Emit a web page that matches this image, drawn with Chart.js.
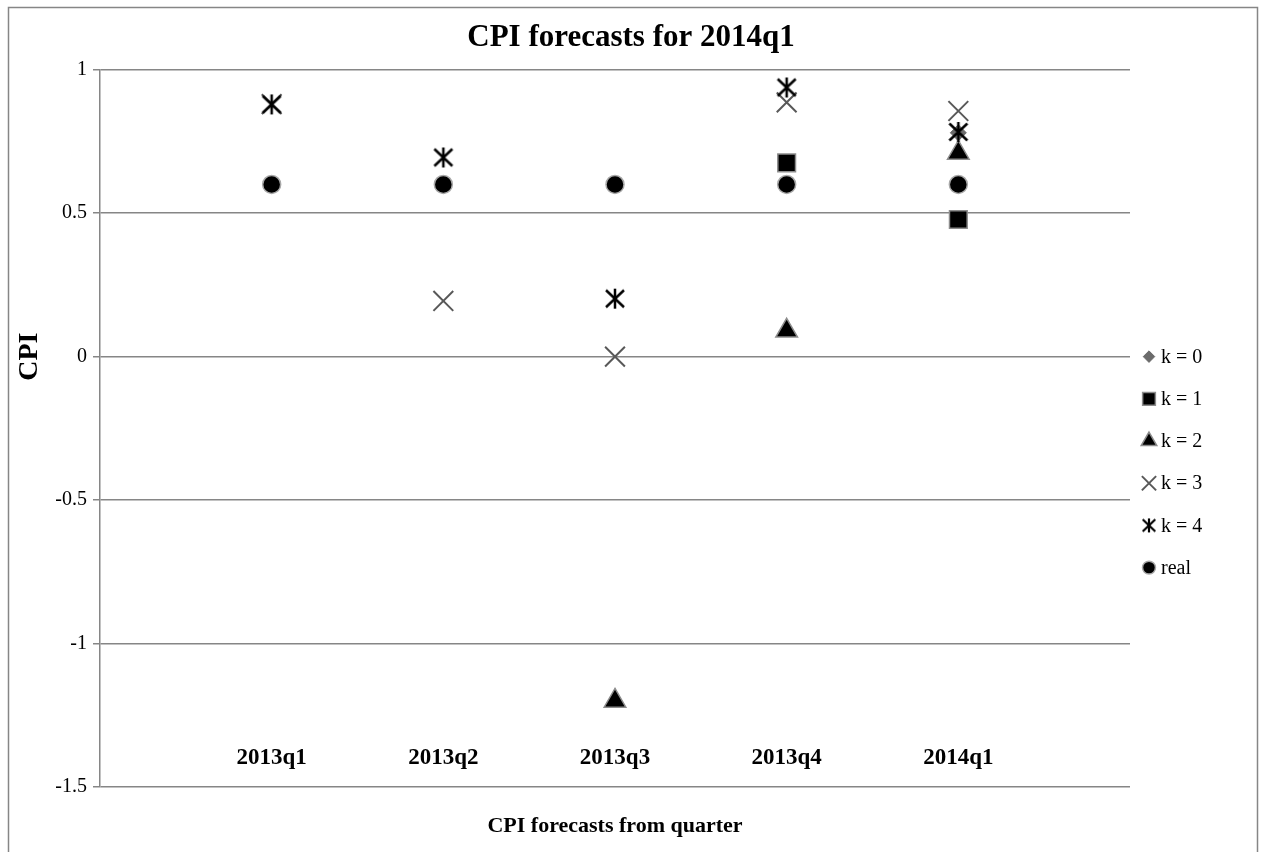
<!DOCTYPE html>
<html>
<head>
<meta charset="utf-8">
<title>CPI forecasts for 2014q1</title>
<script src="https://cdn.jsdelivr.net/npm/chart.js@4.4.1/dist/chart.umd.min.js"></script>
<style>
  html, body { margin: 0; padding: 0; background: #fff; }
  #wrap { width: 1262px; height: 852px; }
</style>
</head>
<body>
<div id="wrap"><canvas id="cpi"></canvas></div>
<script>
// quarters the forecast was made in
const quarters = ["2013q1", "2013q2", "2013q3", "2013q4", "2014q1"];
const yTicks = [1, 0.5, 0, -0.5, -1, -1.5];

// CPI forecasts for 2014q1 by horizon k (null = no visible mark)
const k0 = [null, null, null, null, 0.78];
const k1 = [null, null, null, 0.675, 0.478];
const k2 = [null, null, -1.2, 0.09, 0.71];
const k3 = [0.88, 0.194, 0, 0.886, 0.856];
const k4 = [0.879, 0.694, 0.202, 0.938, 0.783];
const real = [0.6, 0.6, 0.6, 0.6, 0.6];

const serif = "'Liberation Serif', 'Times New Roman', serif";
const grey = "#868686";

// excel-like star: an X with a vertical bar
function makeStar(size, lw) {
  const c = document.createElement("canvas");
  c.width = c.height = size;
  const g = c.getContext("2d");
  const h = size / 2, a = h - 2;
  g.strokeStyle = "#000";
  g.lineWidth = lw;
  g.beginPath();
  g.moveTo(h - a * 0.9, h - a * 0.85); g.lineTo(h + a * 0.9, h + a * 0.85);
  g.moveTo(h + a * 0.9, h - a * 0.85); g.lineTo(h - a * 0.9, h + a * 0.85);
  g.moveTo(h, h - a); g.lineTo(h, h + a);
  g.stroke();
  return c;
}
const star = makeStar(24, 2.5);
const starSmall = makeStar(18, 2.2);

const toPoints = (vals) => vals
  .map((v, i) => ({ x: i + 1, y: v }))
  .filter(p => p.y !== null);

const datasets = [
  { label: "k = 0", data: toPoints(k0), order: 6, pointStyle: "rectRot", pointRadius: 8,
    backgroundColor: "#6b6b6b", borderColor: "#6b6b6b", borderWidth: 1 },
  { label: "k = 1", data: toPoints(k1), order: 5, pointStyle: "rect", pointRadius: 12.5,
    backgroundColor: "#000", borderColor: "#8c8c8c", borderWidth: 1.5 },
  { label: "k = 2", data: toPoints(k2), order: 4, pointStyle: "triangle", pointRadius: 12.5,
    backgroundColor: "#000", borderColor: "#8c8c8c", borderWidth: 1.5 },
  { label: "k = 3", data: toPoints(k3), order: 3, pointStyle: "crossRot", pointRadius: 14,
    backgroundColor: "#595959", borderColor: "#595959", borderWidth: 2 },
  { label: "k = 4", data: toPoints(k4), order: 2, pointStyle: star, pointRadius: 12,
    backgroundColor: "#000", borderColor: "#000", borderWidth: 2 },
  { label: "real", data: toPoints(real), order: 1, pointStyle: "circle", pointRadius: 9,
    backgroundColor: "#000", borderColor: "#a8a8a8", borderWidth: 1.5 },
];

// outer chart border, open at the bottom like the cropped original
const framePlugin = {
  id: "frame",
  beforeDraw(chart) {
    const { ctx, width, height } = chart;
    ctx.save();
    ctx.fillStyle = "#fff";
    ctx.fillRect(0, 0, width, height);
    ctx.strokeStyle = grey;
    ctx.lineWidth = 1.5;
    ctx.strokeRect(8.5, 7.5, width - 13, height + 20);
    ctx.restore();
  }
};

// category names sit inside the plot, and the y title is centred on zero
const axisText = {
  id: "axisText",
  afterDraw(chart) {
    const { ctx } = chart;
    const xs = chart.scales.x, ys = chart.scales.y;
    ctx.save();
    ctx.fillStyle = "#000";
    ctx.textAlign = "center";
    ctx.textBaseline = "middle";
    ctx.font = "bold 23px " + serif;
    quarters.forEach((q, i) => {
      ctx.fillText(q, xs.getPixelForValue(i + 1), ys.bottom - 29);
    });
    ctx.translate(30, ys.getPixelForValue(0));
    ctx.rotate(-Math.PI / 2);
    ctx.font = "bold 28px " + serif;
    ctx.fillText("CPI", 0, 0);
    ctx.restore();
  }
};

// legend on the right, one row per series
const sideLegend = {
  id: "sideLegend",
  afterDraw(chart) {
    const { ctx } = chart;
    const area = chart.chartArea;
    const x = area.right + 19;
    const top = chart.scales.y.getPixelForValue(0);
    ctx.save();
    ctx.font = "20px " + serif;
    ctx.textBaseline = "middle";
    ctx.textAlign = "left";
    chart.data.datasets.forEach((ds, i) => {
      const y = top + i * 42.2;
      ctx.fillStyle = ds.backgroundColor;
      ctx.strokeStyle = ds.borderColor;
      ctx.lineWidth = ds.borderWidth;
      const style = ds.pointStyle === star ? starSmall : ds.pointStyle;
      Chart.helpers.drawPoint(ctx, {
        pointStyle: style, radius: ds.pointRadius * 0.72, rotation: 0, borderWidth: ds.borderWidth
      }, x, y);
      ctx.fillStyle = "#000";
      ctx.fillText(ds.label, x + 12, y + 1);
    });
    ctx.restore();
  }
};

new Chart(document.getElementById("cpi"), {
  type: "scatter",
  data: { datasets },
  options: {
    responsive: true,
    maintainAspectRatio: false,
    animation: false,
    events: [],
    layout: { padding: 0 },
    plugins: {
      legend: { display: false },
      tooltip: { enabled: false },
      title: {
        display: true,
        text: "CPI forecasts for 2014q1",
        color: "#000",
        font: { family: serif, size: 31, weight: "bold" },
        padding: { top: 19, bottom: 13.5 }
      }
    },
    scales: {
      x: {
        type: "linear",
        min: 0,
        max: quarters.length + 1,
        afterBuildTicks: (scale) => { scale.ticks = quarters.map((q, i) => ({ value: i + 1 })); },
        afterFit: (scale) => { scale.height = 65; },
        ticks: { display: false },
        grid: { display: false, drawTicks: false },
        border: { display: false },
        title: {
          display: true,
          text: "CPI forecasts from quarter",
          color: "#000",
          font: { family: serif, size: 22, weight: "bold" },
          padding: { top: 0, bottom: 12 }
        }
      },
      y: {
        type: "linear",
        min: -1.5,
        max: 1,
        afterBuildTicks: (scale) => { scale.ticks = yTicks.map(v => ({ value: v })); },
        afterFit: (scale) => { scale.width = 100; },
        ticks: {
          callback: (v) => String(v),
          color: "#000",
          font: { family: serif, size: 20 },
          padding: 6
        },
        grid: { color: grey, lineWidth: 1.5, tickLength: 7 },
        border: { display: true, color: grey, width: 1.5 }
      },
      // empty axis that keeps room for the legend
      side: {
        type: "linear",
        position: "right",
        afterFit: (scale) => { scale.width = 132; },
        ticks: { display: false },
        grid: { display: false, drawTicks: false },
        border: { display: false }
      }
    }
  },
  plugins: [framePlugin, axisText, sideLegend]
});
</script>
</body>
</html>
